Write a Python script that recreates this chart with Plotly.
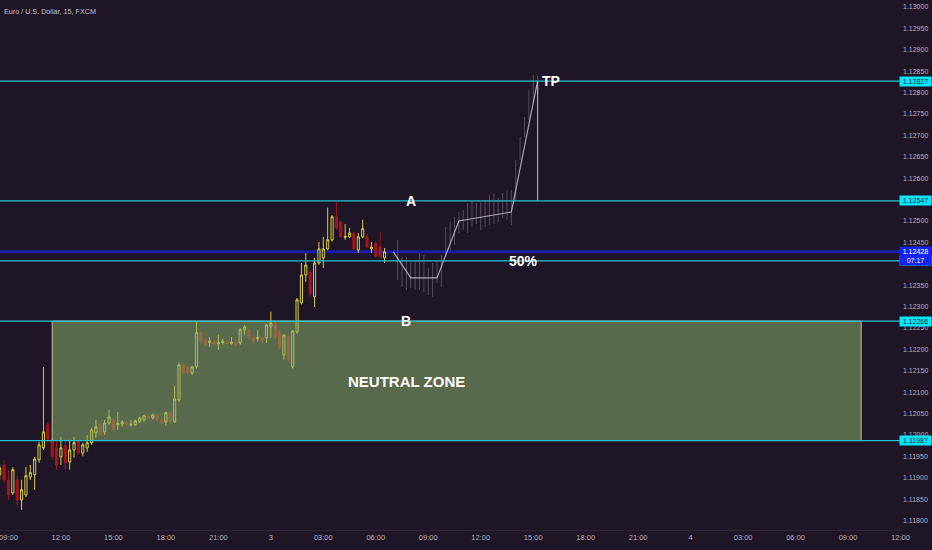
import plotly.graph_objects as go
import pandas as pd

# ---------------- data ----------------
candle_open = [1.11907,1.11930,1.11895,1.11865,1.11895,1.11848,1.11860,1.11902,1.11907,1.11942,
               1.11970,1.12024,1.11989,1.11970,1.11949,1.11975,1.11937,1.11965,1.11985,1.11958,
               1.11970,1.11982,1.12005,1.12024,1.12007,1.12028,1.12035,1.12024,1.12026,1.12030,
               1.12023,1.12024,1.12031,1.12035,1.12045,1.12040,1.12047,1.12035,1.12031,1.12052,
               1.12031,1.12082,1.12164,1.12159,1.12145,1.12159,1.12239,1.12222,1.12216,1.12219,
               1.12213,1.12216,1.12219,1.12214,1.12217,1.12215,1.12246,1.12246,1.12227,1.12225,
               1.12228,1.12227,1.12253,1.12262,1.12240,1.12187,1.12230,1.12159,1.12241,1.12309,
               1.12374,1.12380,1.12323,1.12402,1.12414,1.12435,1.12456,1.12510,1.12498,1.12462,
               1.12463,1.12472,1.12432,1.12463,1.12463,1.12435,1.12449,1.12440,1.12414]
candle_high = [1.11930,1.11942,1.11919,1.11925,1.11905,1.11895,1.11925,1.11930,1.11949,1.11984,
               1.12159,1.12030,1.11995,1.11989,1.11996,1.11989,1.11989,1.11996,1.11989,1.11982,
               1.12000,1.12017,1.12035,1.12030,1.12035,1.12059,1.12040,1.12054,1.12035,1.12033,
               1.12035,1.12036,1.12042,1.12047,1.12047,1.12050,1.12050,1.12040,1.12055,1.12056,
               1.12115,1.12170,1.12168,1.12162,1.12162,1.12264,1.12243,1.12227,1.12229,1.12222,
               1.12234,1.12225,1.12222,1.12229,1.12222,1.12250,1.12257,1.12250,1.12230,1.12246,
               1.12232,1.12260,1.12288,1.12269,1.12246,1.12234,1.12234,1.12245,1.12320,1.12402,
               1.12425,1.12385,1.12414,1.12451,1.12463,1.12531,1.12514,1.12544,1.12500,1.12493,
               1.12484,1.12475,1.12472,1.12503,1.12470,1.12451,1.12452,1.12474,1.12437]
candle_low = [1.11895,1.11888,1.11848,1.11860,1.11836,1.11825,1.11855,1.11895,1.11872,1.11935,
              1.11965,1.11982,1.11942,1.11919,1.11930,1.11919,1.11919,1.11947,1.11954,1.11950,
              1.11961,1.11977,1.11993,1.11996,1.12000,1.12024,1.12008,1.12012,1.12019,1.12019,
              1.12019,1.12021,1.12028,1.12031,1.12035,1.12036,1.12031,1.12024,1.12021,1.12024,
              1.12028,1.12077,1.12140,1.12140,1.12140,1.12155,1.12211,1.12206,1.12206,1.12206,
              1.12199,1.12211,1.12208,1.12211,1.12206,1.12211,1.12234,1.12222,1.12211,1.12218,
              1.12213,1.12215,1.12227,1.12222,1.12199,1.12176,1.12170,1.12155,1.12236,1.12305,
              1.12358,1.12323,1.12299,1.12398,1.12390,1.12432,1.12452,1.12479,1.12460,1.12456,
              1.12460,1.12432,1.12425,1.12460,1.12437,1.12425,1.12416,1.12414,1.12402]
candle_close = [1.11923,1.11895,1.11860,1.11919,1.11848,1.11872,1.11905,1.11912,1.11944,1.11977,
                1.12007,1.11990,1.11950,1.11930,1.11970,1.11935,1.11965,1.11982,1.11958,1.11977,
                1.11982,1.12012,1.12019,1.12000,1.12028,1.12042,1.12012,1.12027,1.12030,1.12024,
                1.12025,1.12033,1.12040,1.12045,1.12038,1.12047,1.12035,1.12028,1.12052,1.12031,
                1.12084,1.12164,1.12145,1.12145,1.12159,1.12239,1.12218,1.12211,1.12219,1.12211,
                1.12216,1.12219,1.12213,1.12217,1.12211,1.12246,1.12253,1.12227,1.12218,1.12228,
                1.12217,1.12257,1.12262,1.12230,1.12205,1.12234,1.12176,1.12243,1.12316,1.12374,
                1.12397,1.12330,1.12402,1.12435,1.12435,1.12456,1.12510,1.12484,1.12463,1.12464,
                1.12472,1.12435,1.12463,1.12482,1.12439,1.12439,1.12418,1.12416,1.12428]
candle_time = pd.date_range("2019-04-02 08:30", periods=len(candle_open), freq="15min")

# projected ("ghost") bars
ghost_high = [1.12456,1.12416,1.12416,1.12405,1.12405,1.12425,1.12421,1.12390,1.12402,1.12405,
              1.12421,1.12486,1.12498,1.12510,1.12521,1.12526,1.12542,1.12549,1.12542,1.12544,
              1.12549,1.12561,1.12565,1.12554,1.12565,1.12572,1.12572,1.12642,1.12696,1.12743,
              1.12806,1.12841,1.12841]
ghost_low = [1.12362,1.12346,1.12339,1.12344,1.12339,1.12339,1.12334,1.12327,1.12323,1.12355,
             1.12346,1.12416,1.12432,1.12444,1.12472,1.12479,1.12472,1.12486,1.12493,1.12479,
             1.12486,1.12491,1.12493,1.12498,1.12507,1.12503,1.12491,1.12549,1.12642,1.12696,
             1.12736,1.12776,1.12795]
ghost_time = pd.date_range("2019-04-03 07:15", periods=len(ghost_high), freq="15min")

# projected path
path_time = ["2019-04-03 07:00", "2019-04-03 08:00", "2019-04-03 09:30", "2019-04-03 10:45",
             "2019-04-03 13:45", "2019-04-03 15:15", "2019-04-03 15:15"]
path_price = [1.12428, 1.12367, 1.12367, 1.12500, 1.12521, 1.12827, 1.12547]

# levels
level_prices = [1.12827, 1.12547, 1.12407, 1.12266, 1.11987]
level_labels = ["1.12827", "1.12547", "1.12407", "1.12266", "1.11987"]
last_price = 1.12428
last_label = "1.12428"
countdown = "07:17"

zone_start, zone_end = "2019-04-02 11:30", "2019-04-04 09:45"
zone_low, zone_high = 1.11987, 1.12266

text_labels = ["TP", "A", "50%", "B", "NEUTRAL ZONE"]
text_times = ["2019-04-03 15:15", "2019-04-03 08:00", "2019-04-03 14:25", "2019-04-03 07:45", "2019-04-03 07:45"]
text_prices = [1.12827, 1.12547, 1.12407, 1.12266, 1.12124]

x_tick_vals = pd.date_range("2019-04-02 09:00", "2019-04-04 12:00", freq="3h")
x_tick_text = ["09:00", "12:00", "15:00", "18:00", "21:00", "3", "03:00", "06:00", "09:00",
               "12:00", "15:00", "18:00", "21:00", "4", "03:00", "06:00", "09:00", "12:00"]

title_text = "Euro / U.S. Dollar, 15, FXCM"

# ---------------- styles ----------------
BG = "#1e1526"
AXIS_TXT = "#b4b2bc"
CYAN = "#22c3d6"
BOX_CYAN = "#00e8ff"
FONT = "Liberation Sans, Arial, sans-serif"

fig = go.Figure()

fig.add_trace(go.Candlestick(
    x=candle_time, open=candle_open, high=candle_high, low=candle_low, close=candle_close,
    increasing=dict(line=dict(color="#d2d040", width=1), fillcolor=BG),
    decreasing=dict(line=dict(color="#a3161c", width=1), fillcolor="#a3161c"),
    whiskerwidth=0, hoverinfo="skip", showlegend=False))

gx, gy = [], []
for t, h, l in zip(ghost_time, ghost_high, ghost_low):
    gx += [t, t, None]
    gy += [l, h, None]
fig.add_trace(go.Scatter(x=gx, y=gy, mode="lines",
                         line=dict(color="rgba(200,195,210,0.32)", width=1),
                         hoverinfo="skip", showlegend=False))

fig.add_trace(go.Scatter(x=path_time, y=path_price, mode="lines",
                         line=dict(color="rgba(205,200,215,0.8)", width=1.2),
                         hoverinfo="skip", showlegend=False))

# last price line (below traces)
fig.add_shape(type="line", xref="x domain", x0=0, x1=1, yref="y", y0=last_price, y1=last_price,
              line=dict(color="#1c1ca8", width=3), layer="below")

# neutral zone
fig.add_shape(type="rect", xref="x", x0=zone_start, x1=zone_end, yref="y", y0=zone_low, y1=zone_high,
              fillcolor="rgba(139,174,105,0.55)", line=dict(color="rgba(225,220,160,0.85)", width=1),
              layer="above")

for p in level_prices:
    fig.add_shape(type="line", xref="x domain", x0=0, x1=1, yref="y", y0=p, y1=p,
                  line=dict(color=CYAN, width=1.3), layer="above")

annotations = []
for p, lab in zip(level_prices, level_labels):
    annotations.append(dict(xref="paper", x=1, xanchor="right", yref="y", y=p, yanchor="middle",
                            text=lab, showarrow=False, bgcolor=BOX_CYAN, width=29, borderpad=1,
                            font=dict(family=FONT, size=7, color="#16163a")))
annotations.append(dict(xref="paper", x=1, xanchor="right", yref="y", y=last_price, yanchor="top",
                        yshift=6, text=last_label + "<br>" + countdown, showarrow=False,
                        bgcolor="#1424f0", width=29, borderpad=1, align="center",
                        font=dict(family=FONT, size=7, color="#ffffff")))
for lab, t, p in zip(text_labels, text_times, text_prices):
    ann = dict(xref="x", x=t, yref="y", y=p, text="<b>" + lab + "</b>", showarrow=False,
               yanchor="middle", font=dict(family=FONT, size=15 if lab == "NEUTRAL ZONE" else 14,
                                           color="#ffffff"))
    if lab == "TP":
        ann.update(xanchor="left", xshift=2)
    else:
        ann.update(xanchor="center")
    annotations.append(ann)
annotations.append(dict(xref="paper", x=0, xanchor="left", xshift=2, yref="paper", y=1,
                        yanchor="top", yshift=-5, text=title_text, showarrow=False,
                        font=dict(family=FONT, size=7.2, color="#c9c7d0")))

fig.update_layout(
    width=932, height=550, autosize=False,
    margin=dict(l=0, r=0, t=0, b=20, autoexpand=False),
    paper_bgcolor=BG, plot_bgcolor=BG,
    showlegend=False, hovermode=False,
    annotations=annotations,
    xaxis=dict(domain=[0, 902 / 932], range=["2019-04-02 08:31", "2019-04-04 12:05"],
               automargin=False,
               rangeslider=dict(visible=False), showgrid=False, zeroline=False,
               showline=True, linecolor="#2e2539", linewidth=1,
               tickmode="array", tickvals=x_tick_vals, ticktext=x_tick_text,
               ticklabeloverflow="allow",
               ticks="", tickfont=dict(family=FONT, size=7.5, color=AXIS_TXT)),
    yaxis=dict(range=[1.11778, 1.130164], side="right", showgrid=False, zeroline=False,
               automargin=False,
               showline=False, tick0=1.118, dtick=0.0005, tickformat=".5f", ticks="",
               tickfont=dict(family=FONT, size=7, color=AXIS_TXT)),
)

fig.write_html("out.html", config={"displayModeBar": False, "responsive": False},
               post_script="document.body.style.margin='0';document.body.style.overflow='hidden';"
                           "document.body.style.background='#1e1526';")
